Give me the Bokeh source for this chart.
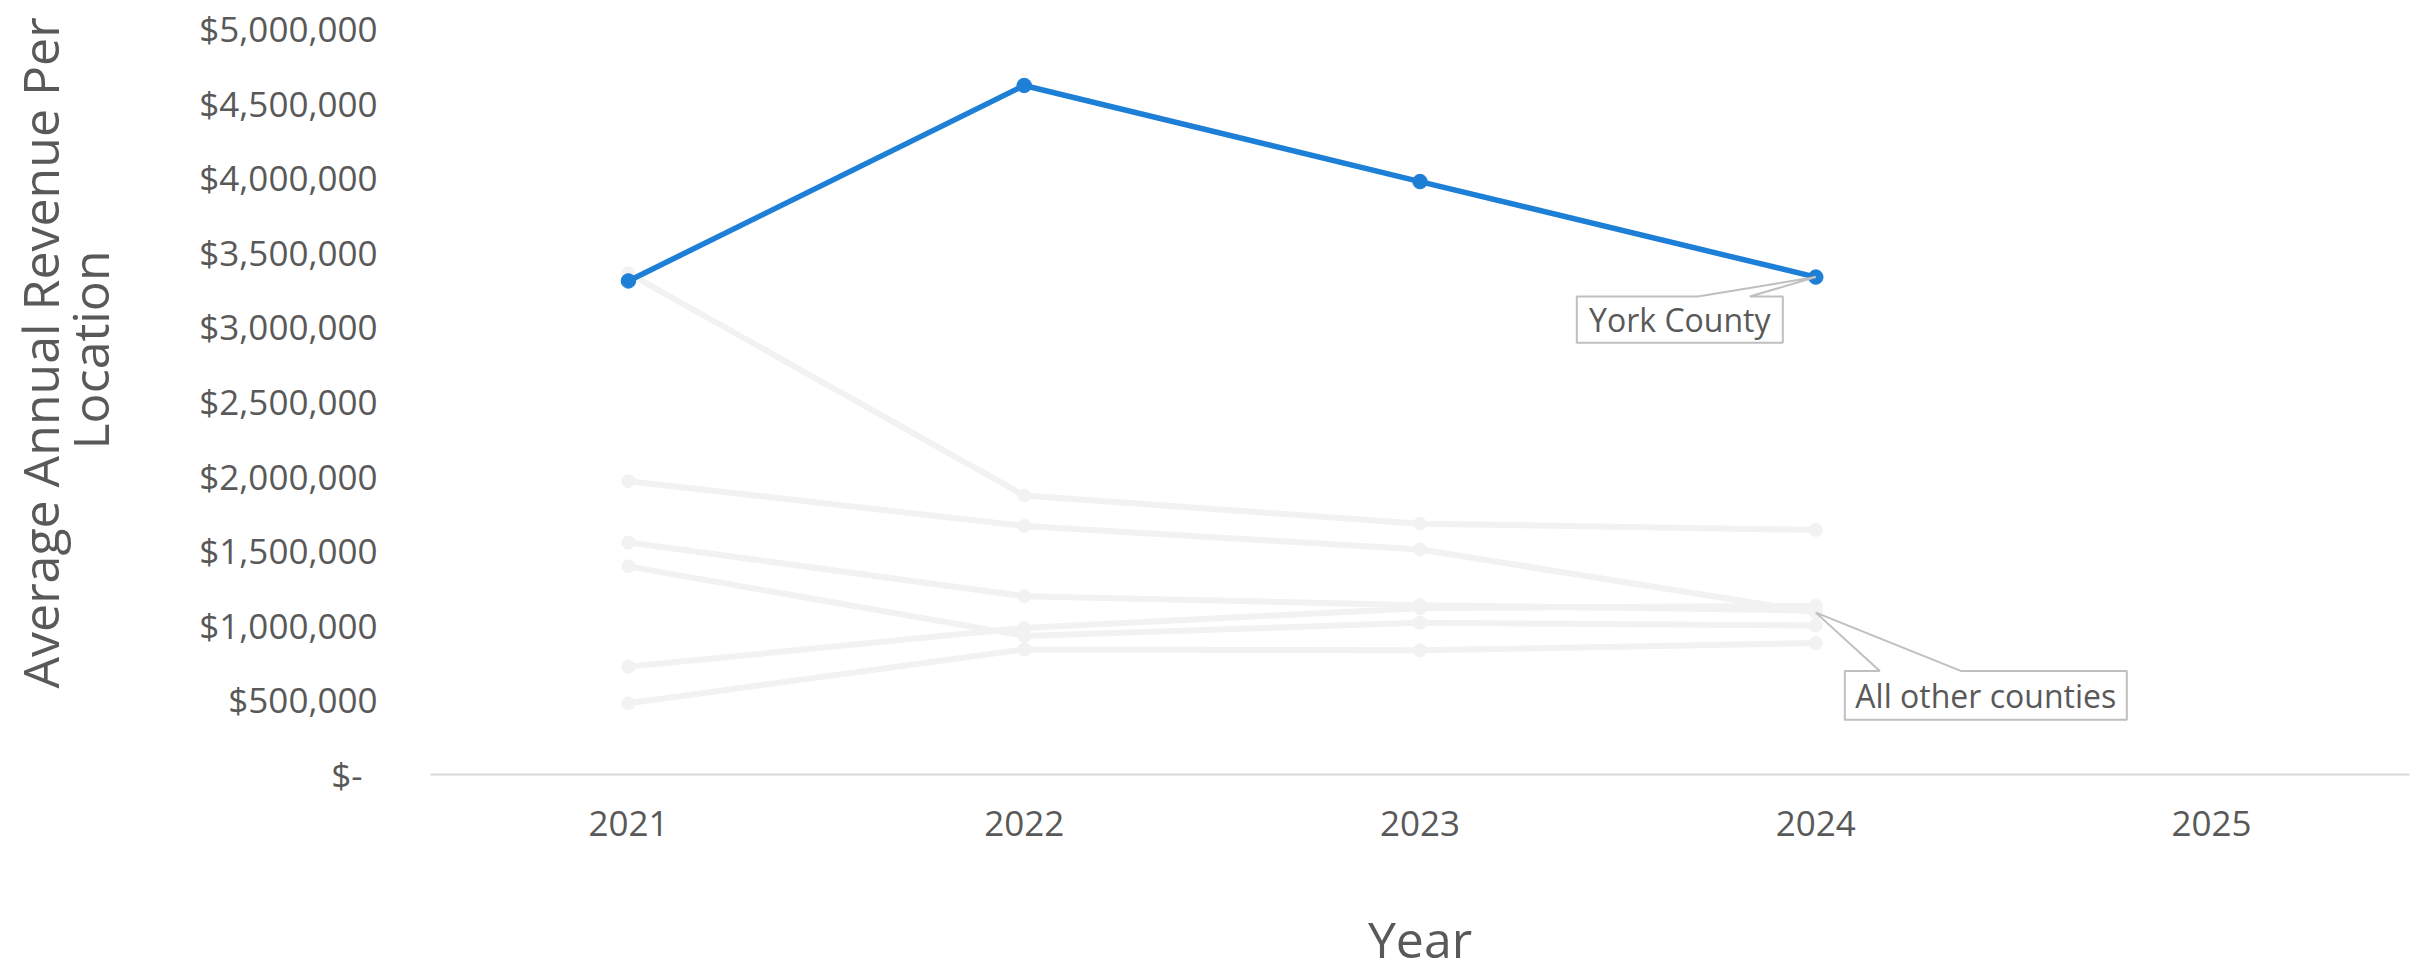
from bokeh.plotting import figure
from bokeh.models import Range1d, FixedTicker, Title
from bokeh.core.properties import value
from bokeh.embed import file_html
from bokeh.resources import INLINE

# ---------------- data ----------------
years = [2021, 2022, 2023, 2024]
axis_years = [2021, 2022, 2023, 2024, 2025]

york_county = [3308000, 4618000, 3974000, 3334000]

other_a = [3360000, 1870000, 1681000, 1639000]
other_b = [1966000, 1666000, 1508000, 1085000]
other_c = [1555000, 1195000, 1135000, 1100000]
other_d = [1395000, 929000, 1017000, 999000]
other_e = [723000, 982000, 1115000, 1130000]
other_f = [478000, 838000, 832000, 881000]
other_series = [other_a, other_b, other_c, other_d, other_e, other_f]

y_ticks = [0, 500000, 1000000, 1500000, 2000000, 2500000,
           3000000, 3500000, 4000000, 4500000, 5000000]
y_tick_labels = ["$-\u00a0\u2006"] + ["${:,}".format(v) for v in y_ticks[1:]]

callout_texts = ["York County", "All other counties"]

x_title = "Year"
y_title_lines = ["Average Annual Revenue Per", "Location"]

# ---------------- style ----------------
FONT = "Open Sans"
TEXT = "#595959"
BLUE = "#1e7fd6"
GREY = "#f2f2f2"

W, H = 2417, 975
BL, BR, BT, BB = 430, 8, 28, 197
FRAME_W = W - BL - BR
FRAME_H = H - BT - BB
X0, X1 = 2020.5, 2025.5
Y0, Y1 = 0, 5000000

p = figure(width=W, height=H, x_range=Range1d(X0, X1), y_range=Range1d(Y0, Y1),
           output_backend="svg", toolbar_location=None, title_location=None,
           min_border_left=BL, min_border_right=BR, min_border_top=BT,
           min_border_bottom=BB)
p.outline_line_color = None
p.xgrid.visible = False
p.ygrid.visible = False
p.background_fill_color = "white"
p.border_fill_color = "white"

xa = p.xaxis[0]
xa.ticker = FixedTicker(ticks=axis_years)
xa.axis_line_color = "#d9d9d9"
xa.axis_line_width = 2
xa.major_tick_line_color = None
xa.minor_tick_line_color = None
xa.major_label_text_font = FONT
xa.major_label_text_font_size = "35px"
xa.major_label_text_color = TEXT
xa.major_label_standoff = 30
xa.axis_label = x_title
xa.axis_label_text_font = FONT
xa.axis_label_text_font_size = "50px"
xa.axis_label_text_font_style = "normal"
xa.axis_label_text_color = TEXT
xa.axis_label_standoff = 66

ya = p.yaxis[0]
ya.ticker = FixedTicker(ticks=y_ticks)
ya.major_label_overrides = {t: s for t, s in zip(y_ticks, y_tick_labels)}
ya.axis_line_color = None
ya.major_tick_line_color = None
ya.minor_tick_line_color = None
ya.major_label_text_font = FONT
ya.major_label_text_font_size = "35px"
ya.major_label_text_color = TEXT
ya.major_label_standoff = 47
# invisible spacer label: leaves room between the tick labels and the title
ya.axis_label = "\u00a0"
ya.axis_label_text_font_size = "2px"
ya.axis_label_standoff = 68

# two-line vertical title, stacked outward from the axis
title_kw = dict(align="left", vertical_align="bottom", text_font=FONT,
                text_font_size="50px", text_font_style="normal", text_color=TEXT)
p.add_layout(Title(text=y_title_lines[1], offset=325, standoff=0, **title_kw), "left")
p.add_layout(Title(text=y_title_lines[0], offset=86, standoff=-40, **title_kw), "left")

# ---------------- series ----------------
for vals in other_series:
    p.line(years, vals, line_color=GREY, line_width=6, line_join="round")
    p.scatter(years, vals, size=13, fill_color=GREY, line_color=GREY)

p.line(years, york_county, line_color=BLUE, line_width=5.5, line_join="round")
p.scatter(years, york_county, size=14.5, fill_color=BLUE, line_color=BLUE)

# ---------------- callouts ----------------
sx = (X1 - X0) / FRAME_W
sy = (Y1 - Y0) / FRAME_H


def callout(px, py, box, wedge, label):
    l, r, t, b = box
    w1, w2 = wedge
    xs = [px + l * sx, px + w1 * sx, px, px + w2 * sx, px + r * sx, px + r * sx, px + l * sx]
    ys = [py - t * sy, py - t * sy, py, py - t * sy, py - t * sy, py - b * sy, py - b * sy]
    p.patch(xs, ys, fill_color="white", line_color="#bfbfbf", line_width=2)
    p.text(x=[px + (l + r) / 2 * sx], y=[py - (t + b) / 2 * sy], text=[label],
           text_align="center", text_baseline="middle", text_color=TEXT,
           text_font=value(FONT), text_font_size="32px")


callout(years[3], york_county[3], (-239, -33, 19.5, 66), (-118, -66), callout_texts[0])
callout(years[3], other_b[3], (29, 311, 58.6, 107.6), (64, 145), callout_texts[1])

open("out.html", "w").write(file_html(p, INLINE))
